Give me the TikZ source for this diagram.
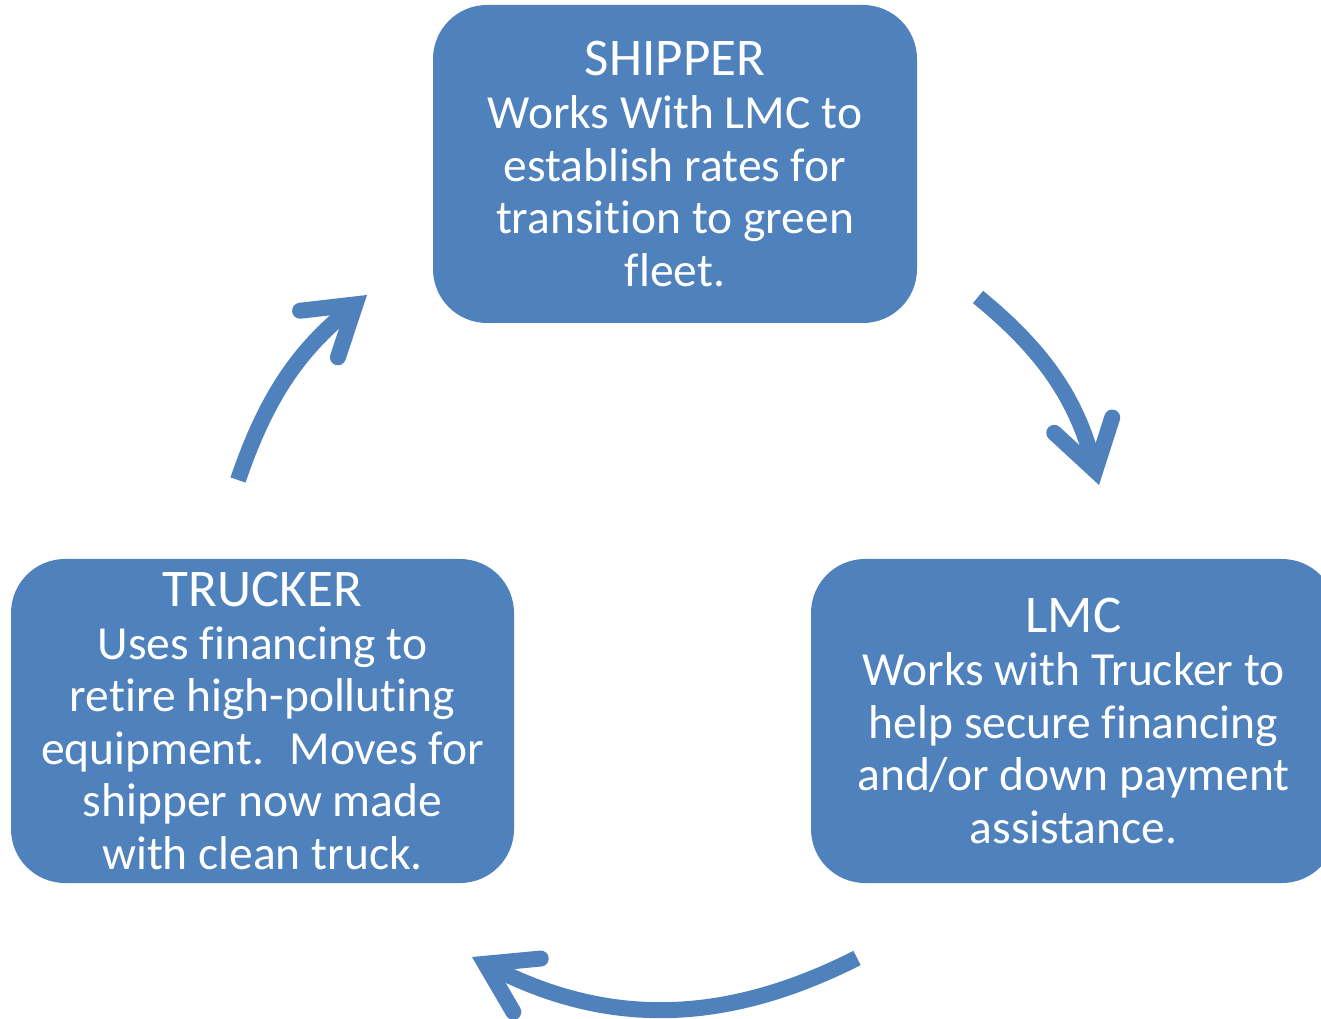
\documentclass[tikz,border=0pt]{standalone}
\usepackage{fontspec}
\setmainfont{Carlito}[Ligatures=NoCommon]
\usetikzlibrary{arrows.meta}
\definecolor{boxblue}{HTML}{4F81BD}
\newcommand{\boxhead}[1]{{\fontsize{53}{54}\selectfont #1}}
\begin{document}
\begin{tikzpicture}[x=1pt,y=1pt,>={Straight Barb[length=47pt,width=60pt,line cap=round,line join=miter]},
	party/.style={fill=boxblue,rounded corners=54pt,inner sep=0pt,text=white,align=center,font=\fontsize{47.5}{52.6}\selectfont},
	flow/.style={draw=boxblue,line width=16pt,->}]
		\useasboundingbox (0,0) rectangle (1321,1018);
		%
		\node [party,minimum width=484pt,minimum height=318pt] (shipper) at (675,854)
		{\boxhead{SHIPPER}\\Works With LMC to\\establish rates for\\transition to green\\fleet.};
		\node [party,minimum width=525pt,minimum height=324pt] (lmc) at (1073.5,297)
		{\boxhead{LMC}\\Works with Trucker to\\help secure financing\\and/or down payment\\assistance.};
		\node [party,minimum width=503pt,minimum height=324pt] (trucker) at (262.5,297)
		{\boxhead{TRUCKER}\\Uses financing to\\retire high-polluting\\equipment.~ Moves for\\shipper now made\\with clean truck.};
		%
		\coordinate (s1) at (978,721);
		\coordinate (e1) at (1099,533);
		\coordinate (s2) at (857,60);
		\coordinate (e2) at (472,61);
		\coordinate (s3) at (238,538);
		\coordinate (e3) at (367,723);
		\draw [flow] (s1) to [bend left=18] (e1);
		\draw [flow] (s2) to [bend left=27] (e2);
		\draw [flow] (s3) to [bend left=16] (e3);
	\end{tikzpicture}
\end{document}
